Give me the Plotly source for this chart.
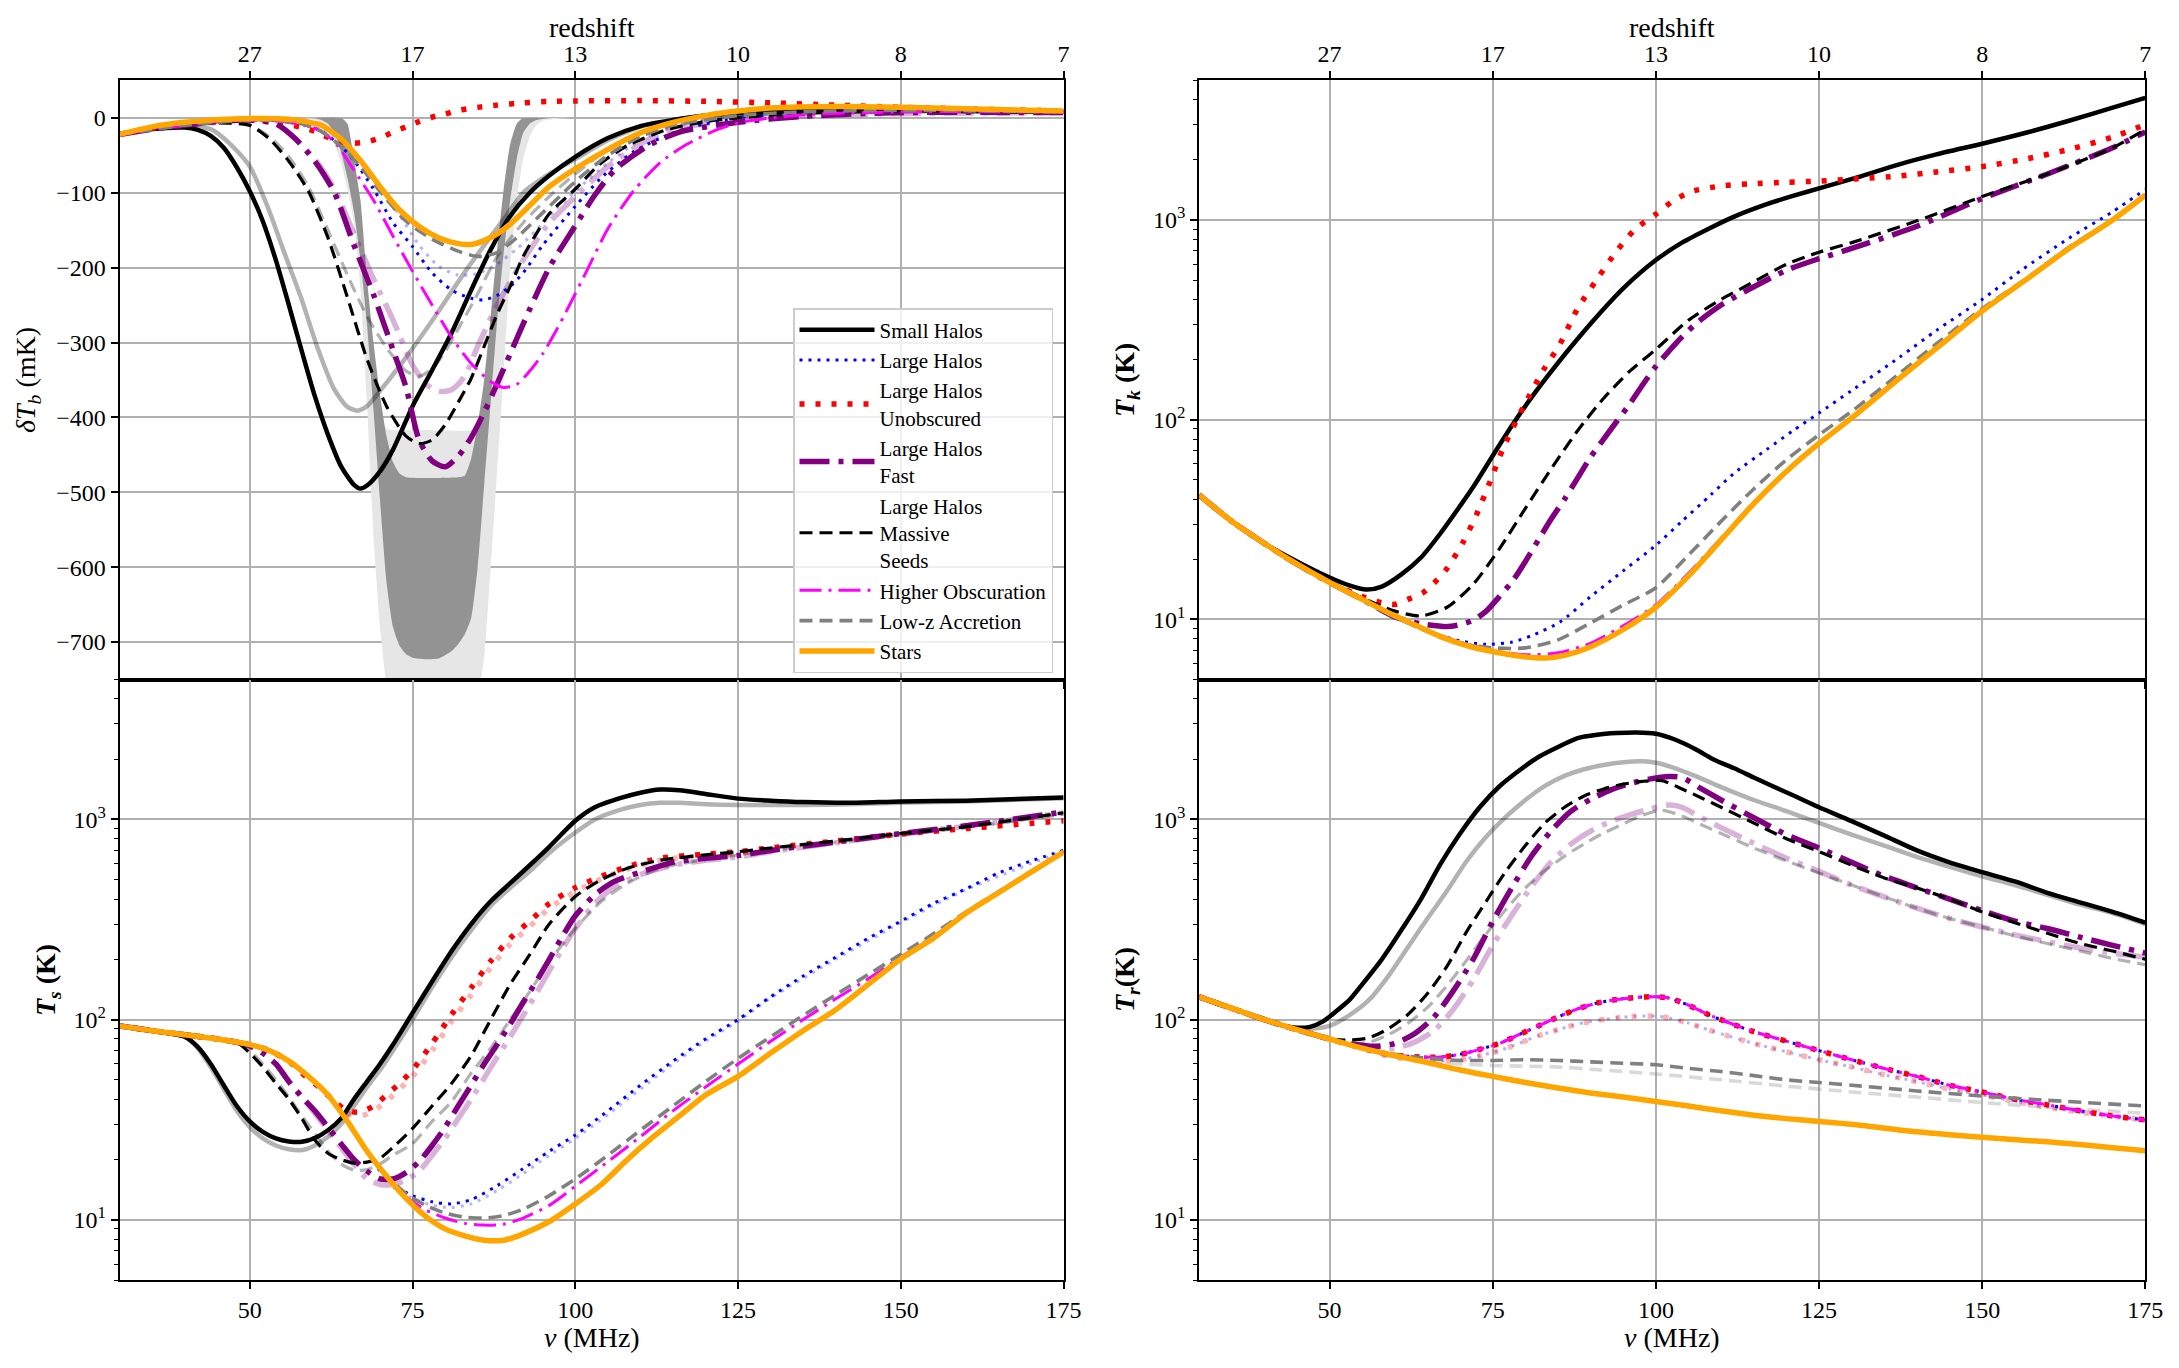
import plotly.graph_objects as go

# ---------------- DATA ----------------
MHZ_TICKS = [50, 75, 100, 125, 150, 175]
MHZ_LABELS = ["50", "75", "100", "125", "150", "175"]
Z_LABELS = ["27", "17", "13", "10", "8", "7"]
TB_TICKS = [-700, -600, -500, -400, -300, -200, -100, 0]
TB_LABELS = ["\u2212700", "\u2212600", "\u2212500", "\u2212400", "\u2212300", "\u2212200", "\u2212100", "0"]
LOG_TICKS = [10, 100, 1000]
LOG_LABELS = ["10<sup>1</sup>", "10<sup>2</sup>", "10<sup>3</sup>"]
LOG_MINOR = [5, 6, 7, 8, 9, 20, 30, 40, 50, 60, 70, 80, 90, 200, 300, 400, 500, 600, 700, 800, 900,
             2000, 3000, 4000, 5000]

# EDGES-like shaded band (dT_b, mK)
band_light_upper_nu = [58, 62, 64, 65, 66, 67, 68, 69, 70, 71, 72, 78, 84, 85, 86, 87, 88, 89, 90, 91, 92, 94, 99]
band_light_upper = [0, 0, 0, -15, -75, -150, -250, -340, -400, -415, -417, -417, -417, -405, -360, -290, -200,
                    -120, -50, -12, 0, 0, 0]
band_light_lower_nu = [58, 60, 61, 62, 63, 64, 65, 66, 67, 68, 69, 70, 71, 72, 78, 84, 85, 86, 87, 88, 89, 90,
                       91, 92, 93, 94, 95, 97, 99]
band_light_lower = [0, -3, -8, -18, -35, -60, -95, -140, -230, -380, -560, -680, -760, -820, -850, -820, -780,
                    -720, -600, -470, -340, -200, -110, -55, -25, -10, -4, -1.5, 0]
band_dark_upper_nu = [60, 64, 65, 66, 67, 68, 69, 70, 71, 72, 73, 74, 78, 82, 83, 84, 85, 86, 87, 88, 89, 90, 91,
                      92, 95]
band_dark_upper = [0, 0, -8, -55, -110, -215, -300, -370, -425, -460, -475, -480, -481, -480, -478, -455, -410,
                   -350, -265, -175, -95, -35, -8, 0, 0]
band_dark_lower_nu = [58, 60, 61, 62, 63, 64, 65, 66, 67, 68, 69, 70, 71, 72, 73, 74, 75, 77, 79, 81, 82, 83, 84,
                      85, 86, 87, 88, 89, 90, 91, 92, 93, 94, 96, 98]
band_dark_lower = [0, -1, -3, -8, -20, -45, -80, -125, -190, -275, -390, -510, -620, -680, -705, -716, -721, -723,
                   -722, -712, -703, -690, -668, -600, -490, -380, -270, -180, -110, -55, -20, -8, -3, -0.5, 0]

# ---- dT_b (mK) ----
tb_small_nu = [30, 35, 40, 42, 44, 46, 48, 50, 52, 54, 56, 58, 60, 62, 64, 66, 67, 68, 70, 72, 75, 78, 81, 84, 87,
               90, 93, 96, 100, 105, 110, 115, 120, 125, 135, 150, 175]
tb_small = [-22, -15, -13, -16, -24, -40, -66, -98, -138, -190, -250, -312, -372, -423, -465, -490, -495, -491,
            -472, -443, -385, -337, -287, -230, -176, -131, -100, -77, -52, -27, -11, -3, 3, 6, 9, 10, 8]
tb_small_f_nu = [30, 35, 40, 44, 47, 50, 52.7, 55.3, 57.9, 60.4, 63, 65, 66.5, 68, 69.7, 73.3, 78.4, 83.5, 88.7,
                 92, 96, 100, 105, 110, 115, 120, 130, 150, 175]
tb_small_f = [-22, -15, -12, -15, -35, -65, -118, -180, -241, -307, -363, -386, -391, -385, -368, -328, -266, -200,
              -139, -100, -75, -55, -30, -12, -3, 2, 7, 9, 8]
tb_large_nu = [30, 35, 40, 45, 50, 55, 58, 61, 64, 66, 69, 72, 75, 78, 81, 84, 86, 88, 90, 92, 95, 100, 104, 109,
               115, 120, 125, 135, 150, 175]
tb_large = [-22, -15, -10, -5, -3, -4, -8, -18, -38, -57, -95, -140, -172, -207, -230, -241, -243, -237, -225, -207,
            -170, -118, -80, -45, -20, -8, 0, 7, 10, 8]
tb_large_f_nu = [30, 40, 50, 55, 58, 61, 64, 67, 70, 73, 76, 79, 82, 85, 88, 91, 94, 97, 100, 105, 110, 115, 125,
                 150, 175]
tb_large_f = [-22, -10, -3, -4, -8, -15, -30, -55, -92, -130, -170, -198, -210, -208, -195, -175, -150, -122, -98,
              -60, -30, -12, 2, 9, 8]
tb_unobs_nu = [30, 35, 40, 45, 50, 55, 58, 60, 62, 64, 66, 68, 70, 72, 74, 76, 78, 80, 82, 85, 88, 92, 96, 100,
               110, 120, 130, 140, 150, 160, 175]
tb_unobs = [-22, -14, -8, -4, -2, -7, -13, -18, -26, -32, -34, -32, -27, -19, -12, -5, 1, 5, 10, 14, 17, 20, 22,
            22.5, 23, 22, 20, 17, 14, 12, 9]
tb_fast_nu = [30, 35, 40, 45, 50, 54, 57, 60, 63, 66, 69, 72, 74, 76, 78, 80, 82, 84, 86, 88, 90, 92, 96, 100, 103,
              106, 111, 116, 125, 135, 150, 175]
tb_fast = [-22, -15, -10, -5, -3, -8, -28, -58, -100, -170, -236, -310, -360, -430, -458, -466, -452, -427, -393,
           -355, -315, -275, -200, -144, -103, -70, -38, -19, -6, 2, 7, 7]
tb_fast_f_nu = [30, 40, 50, 54, 57, 60, 63, 66, 69, 72, 75, 77, 79, 81, 83, 85, 88, 92, 96, 100, 105, 110, 115, 125,
                140, 175]
tb_fast_f = [-22, -10, -3, -8, -28, -55, -95, -155, -215, -270, -330, -355, -365, -363, -345, -305, -250, -190,
             -140, -105, -65, -35, -15, -3, 4, 7]
tb_seeds_nu = [30, 35, 40, 44, 47, 50, 53, 56, 59, 62, 65, 68, 71, 74, 76, 78, 80, 82, 84, 86, 88, 90, 92, 94, 96,
               100, 104, 108, 114, 120, 125, 135, 150, 175]
tb_seeds = [-22, -15, -10, -7, -7, -10, -28, -58, -98, -160, -240, -322, -385, -425, -435, -430, -410, -380, -348,
            -305, -262, -225, -185, -155, -128, -95, -60, -37, -16, -5, 0, 6, 9, 8]
tb_seeds_f_nu = [30, 40, 47, 50, 53, 56, 59, 62, 65, 68, 71, 74, 76, 78, 80, 82, 85, 88, 92, 96, 100, 105, 110, 115,
                 125, 150, 175]
tb_seeds_f = [-22, -10, -7, -10, -25, -52, -92, -150, -210, -265, -307, -338, -345, -335, -312, -282, -235, -185,
              -140, -105, -75, -42, -20, -8, 2, 8, 8]
tb_highobs_nu = [30, 35, 40, 45, 50, 55, 60, 63, 66, 69, 72, 75, 78, 81, 84, 87, 89, 91, 93, 95, 97, 99, 102, 105,
                 109, 113, 117, 122, 126, 135, 150, 175]
tb_highobs = [-22, -15, -10, -5, -3, -5, -14, -32, -70, -110, -158, -205, -250, -293, -328, -352, -360, -356, -338,
              -315, -285, -252, -200, -148, -97, -60, -36, -15, -5, 4, 8, 8]
tb_lowz_nu = [30, 40, 50, 55, 58, 61, 64, 67, 70, 74, 78, 82, 85, 88, 91, 94, 97, 100, 105, 110, 115, 125, 135, 150,
              175]
tb_lowz = [-22, -10, -3, -4, -8, -18, -38, -65, -98, -138, -162, -178, -185, -180, -160, -135, -110, -85, -50, -25,
           -10, 3, 8, 10, 8]
tb_stars_nu = [30, 35, 40, 45, 50, 55, 58, 61, 64, 67, 70, 73, 76, 79, 82, 84, 86, 88, 90, 93, 96, 100, 105, 110,
               115, 120, 125, 130, 140, 150, 160, 175]
tb_stars = [-22, -12, -6, -2.5, -1, -1.5, -4, -10, -28, -57, -92, -123, -145, -160, -168, -169, -164, -155, -142,
            -117, -92, -68, -42, -20, -6, 3, 9, 13, 15, 14, 12, 9]

# ---- T_k (K) ----
tk_small_nu = [30, 35, 40, 45, 50, 53, 55.6, 58, 61, 64, 67, 70, 72, 75, 78, 81, 84, 87, 91, 95, 100, 104, 108.4,
               112, 117, 121, 125, 131, 137.3, 143, 150, 157, 163.3, 170, 175]
tk_small = [42, 31, 24, 19.5, 16.2, 14.8, 14.1, 14.6, 16.8, 20.4, 27, 37, 46, 66, 94, 130, 175, 232, 330, 455, 630,
            770, 915, 1040, 1200, 1320, 1440, 1640, 1900, 2130, 2410, 2750, 3140, 3650, 4085]
tk_large_nu = [30, 35, 40, 44, 50, 60, 65, 70, 74, 78, 81, 85.3, 90, 95, 100, 104, 108.4, 112, 117, 121, 125, 130,
               137.3, 143, 150, 156, 163.3, 170, 175]
tk_large = [42, 31, 24, 19.8, 15.3, 10.3, 8.7, 7.8, 7.5, 7.7, 8.3, 9.7, 13, 17.5, 23.5, 31, 42, 54, 71, 88, 108, 140,
            205, 280, 400, 560, 810, 1100, 1422]
tk_unobs_nu = [30, 35, 40, 44, 50, 55, 58, 60, 62, 64.3, 66, 68, 70.5, 72.5, 74.6, 76.6, 79.7, 82.8, 85.3, 88, 91,
               94, 96.8, 100, 102.7, 105.5, 110, 114.2, 120, 125, 131, 137.3, 143, 150, 157, 163.3, 170, 175]
tk_unobs = [42, 31, 24, 19.8, 15.3, 13, 12.1, 11.9, 12.6, 13.6, 15.2, 18, 24.5, 33.4, 49, 72, 116, 178, 239, 360,
            506, 700, 896, 1069, 1250, 1390, 1480, 1515, 1545, 1566, 1610, 1660, 1740, 1850, 2030, 2255, 2600, 3006]
tk_fast_nu = [30, 35, 40, 44, 50, 55, 60, 64, 68, 70, 72, 74, 76, 78, 80, 82, 84, 86, 88, 90, 92, 94, 96, 98, 100,
              103, 106, 110, 113, 120, 125, 130, 140, 150, 160, 170, 175]
tk_fast = [42, 31, 24, 19.8, 15.3, 12.6, 10.3, 9.5, 9.2, 9.4, 9.9, 11, 13, 15.5, 19.5, 25, 32, 40, 51, 65, 80, 98,
           120, 150, 185, 240, 300, 375, 427, 560, 640, 720, 930, 1280, 1700, 2300, 2760]
tk_seeds_nu = [30, 35, 40, 44, 50, 55, 60, 64, 68, 72, 76, 80, 84, 88, 92, 96, 100, 105, 110, 115, 120, 125, 130,
               140, 150, 160, 170, 175]
tk_seeds = [42, 31, 24, 19.8, 15.3, 12.8, 11, 10.4, 11.5, 15, 22.5, 36, 57, 88, 128, 175, 225, 315, 400, 490, 600,
            690, 770, 990, 1310, 1700, 2300, 2840]
tk_highobs_nu = [30, 35, 40, 44, 50, 60, 65, 70, 75, 80, 85, 90, 95, 100, 105, 110, 115, 120, 125, 130, 137.3, 143,
                 150, 157, 163.3, 170, 175]
tk_highobs = [42, 31, 24, 19.8, 15.3, 10.5, 8.8, 7.7, 7.0, 6.65, 6.8, 7.6, 9.3, 11.8, 17, 25.5, 38.5, 55.5, 76, 102,
              161, 228, 350, 510, 720, 1000, 1330]
tk_lowz_nu = [30, 35, 40, 44, 50, 60, 65, 70, 75, 80, 85, 90, 95, 100, 105, 110, 115, 120, 125, 130, 137.3, 143,
              150, 157, 163.3, 170, 175]
tk_lowz = [42, 31, 24, 19.8, 15.3, 10.3, 8.7, 7.6, 7.2, 7.2, 7.9, 9.6, 11.8, 14.4, 21, 31, 45, 63, 84, 110, 170, 240,
           360, 515, 730, 1010, 1340]
tk_stars_nu = [30, 35, 40, 44, 50, 55, 59, 63, 67, 71, 75, 79, 83, 86, 90, 95, 100, 105, 110, 115, 120, 125, 130,
               137.3, 143, 150, 157, 163.3, 170, 175]
tk_stars = [42, 31, 24, 19.8, 15.3, 12.6, 10.8, 9.4, 8.2, 7.4, 6.9, 6.55, 6.4, 6.6, 7.3, 8.9, 11.5, 16.5, 25, 38, 55,
            76, 102, 161, 228, 350, 510, 720, 1000, 1330]

# ---- T_s (K) ----
ts_small_nu = [30, 35, 38, 40, 42, 44, 46, 48, 50, 52, 54, 56, 58, 60, 62, 64, 66, 68, 70, 72, 75, 78, 81, 84, 87,
               90, 93, 96, 100, 103, 107, 110, 113, 116, 120, 125, 130, 135, 142, 150, 160, 175]
ts_small = [93, 88, 85, 82, 73, 60, 47, 37, 31, 27.5, 25.5, 24.6, 24.5, 25.6, 28, 32, 40, 49, 60, 75, 108, 155, 220,
            300, 390, 480, 590, 730, 985, 1150, 1280, 1360, 1410, 1400, 1340, 1270, 1240, 1220, 1210, 1230, 1240,
            1285]
ts_small_f_nu = [30, 40, 42, 44, 46, 48, 50, 52, 54, 56, 58, 60, 62, 64, 66, 68, 70, 72, 75, 78, 81, 84, 87, 90, 93,
                 96, 100, 103, 107, 110, 113, 116, 120, 125, 130, 135, 142, 150, 160, 175]
ts_small_f = [93, 82, 72, 58, 45, 35, 29, 25.5, 23.5, 22.5, 22.3, 23.5, 26, 30, 37, 46, 56, 70, 100, 145, 205, 280,
              370, 455, 550, 680, 860, 1000, 1120, 1180, 1210, 1210, 1190, 1180, 1180, 1180, 1190, 1210, 1230, 1275]
ts_large_nu = [30, 35, 40, 45, 50, 53, 56, 59, 62, 65, 68, 70, 72, 75, 78, 81, 84, 88, 92, 96, 100, 105, 110, 115,
               120, 125, 130, 135, 140, 145, 150, 155, 160, 165, 170, 175]
ts_large = [93, 88, 84, 80, 75, 70, 62, 52, 42, 31, 22, 17.5, 15, 13.2, 12.3, 12, 12.6, 14.8, 18, 22, 26.5, 35, 47,
            62, 80, 100, 130, 165, 205, 255, 310, 380, 450, 540, 620, 700]
ts_large_f_nu = [72, 75, 78, 81, 84, 88, 92, 96, 100, 105, 110, 115, 120, 125, 130, 140, 150, 160, 175]
ts_large_f = [14.5, 12.8, 11.8, 11.5, 12, 14, 17, 21, 25.5, 33.5, 45, 60, 78, 98, 128, 200, 305, 445, 695]
ts_unobs_nu = [30, 35, 40, 45, 50, 53, 56, 58, 61, 63, 65, 67, 69, 71, 73, 75, 78, 81, 84, 87, 90, 93, 96, 100, 104,
               108, 113, 120, 125, 130, 140, 150, 160, 175]
ts_unobs = [93, 88, 84, 80, 75, 70, 62, 54, 45, 39, 35, 34.5, 37, 42, 48, 56, 76, 106, 144, 196, 255, 310, 380, 456,
            520, 580, 640, 670, 690, 720, 780, 845, 900, 985]
ts_unobs_f_nu = [63, 65, 67, 69, 71, 73, 75, 78, 81, 84, 87, 90, 93, 96, 100, 104, 108, 113, 120]
ts_unobs_f = [38, 34, 33, 35, 39, 45, 52, 70, 98, 133, 182, 238, 292, 360, 435, 505, 565, 625, 660]
ts_fast_nu = [30, 35, 40, 45, 48, 50, 52, 54, 56, 58, 60, 62, 64, 66, 68, 70, 72, 74, 76, 78, 80, 82, 84, 86, 88, 90,
              92, 94, 96, 98, 100, 103, 106, 110, 115, 120, 125, 130, 140, 150, 160, 175]
ts_fast = [93, 88, 84, 80, 77, 74, 68, 60, 49, 41, 35, 29, 24, 20, 17.5, 16, 16, 17.2, 19.5, 23.5, 29, 37, 47, 60, 75,
           95, 122, 155, 200, 260, 330, 420, 490, 545, 610, 640, 660, 700, 770, 850, 930, 1090]
ts_fast_f_nu = [30, 35, 40, 45, 48, 50, 52, 54, 56, 58, 60, 62, 64, 66, 68, 70, 72, 74, 76, 78, 80, 82, 84, 86, 88,
                90, 92, 94, 96, 98, 100, 103, 106, 110, 115, 120, 125, 130, 140, 150, 160, 175]
ts_fast_f = [93, 88, 84, 80, 77, 74, 68, 60, 49, 41, 34, 28, 23, 19, 16, 15, 15, 15.8, 17.5, 21, 25.5, 32, 40, 51,
             65, 82, 105, 135, 175, 225, 285, 380, 460, 530, 590, 625, 650, 690, 765, 845, 925, 1080]
ts_seeds_nu = [30, 35, 40, 45, 48, 50, 52, 54, 56, 58, 60, 62, 64, 66, 68, 70, 72, 75, 78, 81, 84, 87, 90, 93, 96,
               100, 104, 108, 113, 120, 125, 130, 140, 150, 160, 175]
ts_seeds = [93, 88, 84, 80, 77, 68, 58, 48, 40, 32, 25, 21.5, 20, 19.2, 19.4, 20.3, 23, 28.6, 37, 48, 66, 100, 150,
            211, 300, 412, 500, 570, 625, 665, 690, 720, 780, 850, 920, 1080]
ts_seeds_f_nu = [30, 35, 40, 45, 48, 50, 52, 54, 56, 58, 60, 62, 64, 66, 68, 70, 72, 75, 78, 81, 84, 87, 90, 93, 96,
                 100, 104, 108, 113, 120, 125, 130, 140, 150, 160, 175]
ts_seeds_f = [93, 88, 84, 80, 77, 70, 60, 50, 41, 33, 27, 22, 19, 17.7, 17.8, 19, 21, 24, 31, 39, 54, 72, 100, 138,
              195, 285, 390, 480, 570, 630, 665, 700, 770, 840, 910, 1060]
ts_highobs_nu = [30, 35, 40, 45, 50, 53, 56, 59, 62, 65, 68, 71, 74, 77, 80, 83, 86, 89, 92, 96, 100, 105, 110, 115,
                 120, 125, 130, 135, 140, 145, 150, 155, 160, 165, 170, 175]
ts_highobs = [93, 88, 84, 80, 75, 70, 62, 52, 42, 31, 22, 16.5, 13, 11.2, 10.2, 9.6, 9.4, 9.5, 10.2, 11.8, 14.7,
              19.5, 26, 35, 46, 60, 78, 100, 127, 160, 205, 260, 340, 430, 545, 690]
ts_lowz_nu = [30, 35, 40, 45, 50, 53, 56, 59, 62, 65, 68, 71, 74, 77, 80, 83, 86, 89, 92, 96, 100, 105, 110, 115, 120,
              125, 130, 135, 140, 145, 150, 155, 160, 165, 170, 175]
ts_lowz = [93, 88, 84, 80, 75, 70, 62, 52, 42, 31, 22, 16.7, 13.5, 11.8, 10.8, 10.3, 10.2, 10.5, 11.3, 13.2, 16, 21,
           28, 37, 49, 64, 82, 105, 133, 168, 212, 268, 345, 435, 550, 695]
ts_stars_nu = [30, 35, 40, 45, 50, 53, 56, 59, 62, 65, 68, 71, 74, 77, 80, 83, 86, 89, 92, 96, 100, 104, 108, 112,
               116, 120, 125, 130, 135, 140, 145, 150, 155, 160, 165, 170, 175]
ts_stars = [93, 88, 84, 80, 75, 70, 62, 52, 42, 31, 22, 16.5, 12.8, 10.4, 9, 8.3, 7.9, 7.9, 8.5, 9.8, 12, 15, 20, 26,
            33, 42, 52, 68, 88, 112, 150, 201, 255, 340, 430, 545, 687]

# ---- T_r (K) ----
tr_small_nu = [30, 35, 40, 43, 45, 47, 49, 51, 53, 55, 58, 61, 64, 67, 70, 73, 76, 79, 82, 85, 88, 91, 94, 97, 100,
               103, 106, 109, 112, 115, 118, 121, 125, 130, 135, 140, 145, 150, 155, 160, 165, 170, 175]
tr_small = [130, 114, 100, 93, 91, 92, 98, 110, 125, 150, 200, 280, 400, 600, 850, 1150, 1460, 1750, 2050, 2300,
            2550, 2650, 2700, 2720, 2680, 2500, 2250, 1980, 1800, 1620, 1460, 1320, 1150, 980, 830, 700, 610, 545,
            490, 430, 385, 345, 305]
tr_small_f_nu = [30, 40, 44, 47, 50, 53, 56, 59, 62, 65, 68, 71, 74, 77, 80, 83, 86, 89, 92, 95, 98, 100, 103, 106,
                 110, 115, 120, 125, 130, 135, 140, 145, 150, 155, 160, 165, 170, 175]
tr_small_f = [130, 100, 91, 90, 93, 105, 125, 165, 230, 320, 440, 620, 820, 1030, 1250, 1470, 1650, 1780, 1870, 1930,
              1950, 1920, 1800, 1650, 1450, 1250, 1100, 960, 840, 740, 650, 580, 520, 470, 420, 375, 340, 300]
tr_large_nu = [30, 40, 45, 50, 55, 58, 61, 64, 67, 70, 73, 76, 79, 82, 85, 88, 91, 94, 97, 100, 102, 105, 108, 111,
               115, 120, 125, 130, 135, 140, 145, 150, 155, 160, 165, 170, 175]
tr_large = [130, 100, 89, 80, 72, 68, 66, 65, 65, 67, 71, 76, 84, 93, 103, 113, 121, 126, 129, 130, 128, 118, 106,
            97, 87, 78, 70, 63, 57, 52, 47, 43.5, 40, 37.5, 35, 33, 31.5]
tr_large_f_nu = [30, 40, 45, 50, 55, 58, 61, 64, 67, 70, 73, 76, 79, 82, 85, 88, 91, 94, 97, 100, 102, 105, 108, 111,
                 115, 120, 125, 130, 135, 140, 145, 150, 155, 160, 165, 170, 175]
tr_large_f = [130, 100, 89, 80, 72, 67, 64, 62.5, 62, 63, 66, 70, 76, 83, 89, 95, 99, 102, 104, 104, 102, 96, 89, 83,
              76, 69, 63, 58, 53, 49, 45, 42, 39, 36.5, 34.5, 33, 31.5]
tr_unobs_nu = [30, 40, 45, 50, 55, 58, 61, 64, 67, 70, 73, 76, 79, 82, 85, 88, 91, 94, 97, 100, 102, 105, 108, 111,
               115, 120, 125, 130, 135, 140, 145, 150, 155, 160, 165, 170, 175]
tr_unobs = [130, 100, 89, 80, 72, 68, 66, 65, 65, 67, 71, 76, 84, 93, 103, 113, 121, 126, 129, 130, 128, 118, 106,
            97, 87, 78, 70, 63, 57, 52, 47, 43.5, 40, 37.5, 35, 33, 31.5]
tr_unobs_f_nu = [30, 40, 45, 50, 55, 58, 61, 64, 67, 70, 73, 76, 79, 82, 85, 88, 91, 94, 97, 100, 102, 105, 108, 111,
                 115, 120, 125, 130, 135, 140, 145, 150, 155, 160, 165, 170, 175]
tr_unobs_f = [130, 100, 89, 80, 72, 67, 64, 62.5, 62, 63, 66, 70, 76, 83, 89, 95, 99, 102, 104, 104, 102, 96, 89, 83,
              76, 69, 63, 58, 53, 49, 45, 42, 39, 36.5, 34.5, 33, 31.5]
tr_fast_nu = [30, 40, 45, 50, 54, 57, 60, 63, 66, 69, 72, 75, 78, 81, 84, 87, 90, 93, 96, 99, 102, 104, 107, 110, 115,
              120, 125, 130, 135, 140, 145, 150, 155, 160, 165, 170, 175]
tr_fast = [130, 100, 89, 80, 75, 73.5, 76, 85, 103, 140, 200, 310, 460, 660, 880, 1100, 1260, 1400, 1510, 1590, 1640,
           1620, 1420, 1250, 1020, 840, 720, 610, 520, 455, 400, 350, 310, 285, 258, 235, 215]
tr_fast_f_nu = [30, 40, 45, 50, 54, 57, 60, 63, 66, 69, 72, 75, 78, 81, 84, 87, 90, 93, 96, 99, 102, 104, 107, 110,
                115, 120, 125, 130, 135, 140, 145, 150, 155, 160, 165, 170, 175]
tr_fast_f = [130, 100, 89, 80, 74, 71, 72, 77, 88, 113, 158, 235, 335, 465, 615, 755, 875, 975, 1055, 1125, 1180,
             1150, 1020, 910, 760, 640, 550, 470, 410, 360, 320, 290, 265, 245, 228, 215, 205]
tr_seeds_nu = [30, 40, 45, 50, 53, 56, 59, 62, 65, 68, 71, 74, 77, 80, 83, 86, 89, 92, 95, 98, 101, 104, 107, 110, 115,
               120, 125, 130, 135, 140, 145, 150, 155, 160, 165, 170, 175]
tr_seeds = [130, 100, 89, 80, 79, 81, 90, 106, 135, 185, 275, 390, 550, 740, 960, 1150, 1310, 1420, 1500, 1550, 1560,
            1420, 1280, 1150, 960, 800, 690, 590, 510, 455, 400, 345, 305, 270, 240, 220, 200]
tr_seeds_f_nu = [30, 40, 45, 50, 53, 56, 59, 62, 65, 68, 71, 74, 77, 80, 83, 86, 89, 92, 95, 98, 101, 104, 107, 110,
                 115, 120, 125, 130, 135, 140, 145, 150, 155, 160, 165, 170, 175]
tr_seeds_f = [130, 100, 89, 80, 76, 77, 84, 96, 115, 148, 198, 268, 355, 455, 555, 655, 755, 855, 950, 1050, 1110,
              1040, 940, 850, 720, 620, 540, 470, 410, 360, 320, 290, 262, 240, 220, 202, 188]
tr_highobs_nu = [30, 40, 45, 50, 55, 58, 61, 64, 67, 70, 73, 76, 79, 82, 85, 88, 91, 94, 97, 100, 102, 105, 108, 111,
                 115, 120, 125, 130, 135, 140, 145, 150, 155, 160, 165, 170, 175]
tr_highobs = [130, 100, 89, 80, 72, 68, 66, 65, 65, 67, 71, 76, 84, 93, 103, 113, 121, 126, 129, 130, 128, 118, 106,
              97, 87, 78, 70, 63, 57, 52, 47, 43.5, 40, 37.5, 35, 33, 31.5]
tr_lowz_nu = [30, 40, 45, 50, 55, 60, 65, 70, 75, 80, 85, 90, 95, 100, 105, 110, 115, 120, 125, 130, 140, 150, 160,
              175]
tr_lowz = [130, 100, 89, 80, 72, 67, 64, 62.5, 62.5, 63, 62.5, 61.5, 60.5, 59.5, 57, 55, 52.5, 50, 48.5, 47, 44,
           41.5, 39.5, 37]
tr_lowz_f_nu = [30, 40, 45, 50, 55, 60, 65, 70, 75, 80, 85, 90, 95, 100, 110, 120, 130, 140, 150, 160, 175]
tr_lowz_f = [130, 100, 89, 80, 71.5, 65.5, 61.5, 60, 59, 58.5, 58, 56.5, 55, 53.5, 50, 46.5, 43.5, 41, 38.5, 36.5,
             34]
tr_stars_nu = [30, 35, 40, 45, 50, 55, 60, 65, 70, 75, 80, 85, 90, 95, 100, 105, 110, 115, 120, 125, 130, 140, 150,
               160, 175]
tr_stars = [130, 114, 100, 89, 80, 72, 66, 61, 56, 52, 48.5, 45.5, 43, 41, 39, 37, 35, 33.3, 32, 31, 30, 27.5, 25.8,
            24.5, 22.1]

# ---------------- STYLE ----------------
FONT = "Liberation Serif"
W, H = 2179, 1368
S = {
    "small": dict(color="#000000", width=4.5, dash="solid"),
    "large": dict(color="#0000ff", width=3, dash="3px,6px"),
    "unobs": dict(color="#ff0000", width=5.5, dash="5px,11px"),
    "fast": dict(color="#800080", width=5.5, dash="30px,9px,5px,9px"),
    "seeds": dict(color="#000000", width=3.2, dash="13px,7px"),
    "highobs": dict(color="#ff00ff", width=3, dash="22px,7px,3px,7px"),
    "lowz": dict(color="#808080", width=3.6, dash="13px,7px"),
    "stars": dict(color="#ffa500", width=5.5, dash="solid"),
}
FADED = {
    "small": "rgba(0,0,0,0.3)", "large": "rgba(0,0,255,0.3)", "unobs": "rgba(255,0,0,0.3)",
    "fast": "rgba(128,0,128,0.3)", "seeds": "rgba(0,0,0,0.3)", "highobs": "rgba(255,0,255,0.3)",
    "lowz": "rgba(128,128,128,0.3)",
}
NAMES = {
    "small": "Small Halos", "large": "Large Halos", "unobs": "Large Halos<br>Unobscured",
    "fast": "Large Halos<br>Fast", "seeds": "Large Halos<br>Massive<br>Seeds", "highobs": "Higher Obscuration",
    "lowz": "Low-z Accretion", "stars": "Stars",
}
ORDER = ["small", "large", "unobs", "fast", "seeds", "highobs", "lowz", "stars"]

fig = go.Figure()


def add_line(nu, val, ax, key, faded=False, legend=False):
    st = dict(S[key])
    if faded:
        st["color"] = FADED[key]
    fig.add_trace(go.Scatter(
        x=nu, y=val, xaxis="x" + ax, yaxis="y" + ax, mode="lines",
        line=dict(color=st["color"], width=st["width"], dash=st["dash"], shape="spline", smoothing=0.7),
        name=NAMES[key], showlegend=legend, legendrank=ORDER.index(key) + 1, hoverinfo="skip"))


def add_band(nu_u, v_u, nu_l, v_l, color):
    fig.add_trace(go.Scatter(x=nu_u, y=v_u, xaxis="x", yaxis="y", mode="lines",
                             line=dict(width=0, color="rgba(0,0,0,0)", shape="spline", smoothing=0.5),
                             showlegend=False, hoverinfo="skip"))
    fig.add_trace(go.Scatter(x=nu_l, y=v_l, xaxis="x", yaxis="y", mode="lines", fill="tonexty",
                             fillcolor=color,
                             line=dict(width=0, color="rgba(0,0,0,0)", shape="spline", smoothing=0.5),
                             showlegend=False, hoverinfo="skip"))


# panel 1: dT_b
add_band(band_light_upper_nu, band_light_upper, band_light_lower_nu, band_light_lower, "#e6e6e6")
add_band(band_dark_upper_nu, band_dark_upper, band_dark_lower_nu, band_dark_lower, "#939393")
add_line(tb_small_f_nu, tb_small_f, "", "small", faded=True)
add_line(tb_large_f_nu, tb_large_f, "", "large", faded=True)
add_line(tb_fast_f_nu, tb_fast_f, "", "fast", faded=True)
add_line(tb_seeds_f_nu, tb_seeds_f, "", "seeds", faded=True)
add_line(tb_small_nu, tb_small, "", "small", legend=True)
add_line(tb_large_nu, tb_large, "", "large", legend=True)
add_line(tb_unobs_nu, tb_unobs, "", "unobs", legend=True)
add_line(tb_fast_nu, tb_fast, "", "fast", legend=True)
add_line(tb_seeds_nu, tb_seeds, "", "seeds", legend=True)
add_line(tb_highobs_nu, tb_highobs, "", "highobs", legend=True)
add_line(tb_lowz_nu, tb_lowz, "", "lowz", legend=True)
add_line(tb_stars_nu, tb_stars, "", "stars", legend=True)

# panel 2: T_k
add_line(tk_small_nu, tk_small, "2", "small")
add_line(tk_large_nu, tk_large, "2", "large")
add_line(tk_unobs_nu, tk_unobs, "2", "unobs")
add_line(tk_fast_nu, tk_fast, "2", "fast")
add_line(tk_seeds_nu, tk_seeds, "2", "seeds")
add_line(tk_highobs_nu, tk_highobs, "2", "highobs")
add_line(tk_lowz_nu, tk_lowz, "2", "lowz")
add_line(tk_stars_nu, tk_stars, "2", "stars")

# panel 3: T_s
add_line(ts_small_f_nu, ts_small_f, "3", "small", faded=True)
add_line(ts_large_f_nu, ts_large_f, "3", "large", faded=True)
add_line(ts_unobs_f_nu, ts_unobs_f, "3", "unobs", faded=True)
add_line(ts_fast_f_nu, ts_fast_f, "3", "fast", faded=True)
add_line(ts_seeds_f_nu, ts_seeds_f, "3", "seeds", faded=True)
add_line(ts_small_nu, ts_small, "3", "small")
add_line(ts_large_nu, ts_large, "3", "large")
add_line(ts_unobs_nu, ts_unobs, "3", "unobs")
add_line(ts_fast_nu, ts_fast, "3", "fast")
add_line(ts_seeds_nu, ts_seeds, "3", "seeds")
add_line(ts_highobs_nu, ts_highobs, "3", "highobs")
add_line(ts_lowz_nu, ts_lowz, "3", "lowz")
add_line(ts_stars_nu, ts_stars, "3", "stars")

# panel 4: T_r
add_line(tr_small_f_nu, tr_small_f, "4", "small", faded=True)
add_line(tr_large_f_nu, tr_large_f, "4", "large", faded=True)
add_line(tr_unobs_f_nu, tr_unobs_f, "4", "unobs", faded=True)
add_line(tr_fast_f_nu, tr_fast_f, "4", "fast", faded=True)
add_line(tr_seeds_f_nu, tr_seeds_f, "4", "seeds", faded=True)
add_line(tr_lowz_f_nu, tr_lowz_f, "4", "lowz", faded=True)
add_line(tr_small_nu, tr_small, "4", "small")
add_line(tr_large_nu, tr_large, "4", "large")
add_line(tr_unobs_nu, tr_unobs, "4", "unobs")
add_line(tr_fast_nu, tr_fast, "4", "fast")
add_line(tr_seeds_nu, tr_seeds, "4", "seeds")
add_line(tr_highobs_nu, tr_highobs, "4", "highobs")
add_line(tr_lowz_nu, tr_lowz, "4", "lowz")
add_line(tr_stars_nu, tr_stars, "4", "stars")

# ---------------- LAYOUT ----------------
L_DOM = [119.6 / W, 1063.6 / W]
R_DOM = [1199.1 / W, 2145.3 / W]
T_DOM = [1 - 679.5 / H, 1 - 80.4 / H]
B_DOM = [1 - 1280 / H, 1 - 679.5 / H]

tickfont = dict(family=FONT, size=24, color="black")
common = dict(showgrid=True, gridcolor="#b0b0b0", gridwidth=1.5, showline=True, linecolor="black", linewidth=2,
              ticks="outside", ticklen=7, tickwidth=1.5, tickcolor="black", tickfont=tickfont, zeroline=False,
              automargin=False, fixedrange=True)


def xax(dom, anchor, top):
    d = dict(common, domain=dom, anchor=anchor, range=[30, 175], tickmode="array", tickvals=MHZ_TICKS,
             ticktext=Z_LABELS if top else MHZ_LABELS, side="top" if top else "bottom",
             mirror="ticks" if top else True)
    return d


def yax(dom, anchor, log):
    d = dict(common, domain=dom, anchor=anchor, mirror=True)
    if log:
        d.update(type="log", range=[0.69897, 3.69897], tickmode="array", tickvals=LOG_TICKS, ticktext=LOG_LABELS,
                 minor=dict(tickmode="array", tickvals=LOG_MINOR, ticks="outside", ticklen=4, tickwidth=1.2,
                            tickcolor="black", showgrid=False))
    else:
        d.update(range=[-750, 50], tickmode="array", tickvals=TB_TICKS, ticktext=TB_LABELS)
    return d


def ann(text, x, y, angle=0):
    return dict(text=text, x=x / W, y=1 - y / H, xref="paper", yref="paper", showarrow=False,
                xanchor="center", yanchor="middle", textangle=angle,
                font=dict(family=FONT, size=28, color="black"))


fig.update_layout(
    width=W, height=H, template="none",
    paper_bgcolor="white", plot_bgcolor="white",
    margin=dict(l=0, r=0, t=0, b=0, pad=0),
    font=dict(family=FONT, color="black"),
    xaxis=xax(L_DOM, "y", True), yaxis=yax(T_DOM, "x", False),
    xaxis2=xax(R_DOM, "y2", True), yaxis2=yax(T_DOM, "x2", True),
    xaxis3=xax(L_DOM, "y3", False), yaxis3=yax(B_DOM, "x3", True),
    xaxis4=xax(R_DOM, "y4", False), yaxis4=yax(B_DOM, "x4", True),
    legend=dict(x=1053 / W, y=1 - 308 / H, xanchor="right", yanchor="top", bgcolor="rgba(255,255,255,0.8)",
                bordercolor="#cccccc", borderwidth=1.5, font=dict(family=FONT, size=21, color="black"),
                itemwidth=75, tracegroupgap=0, traceorder="normal"),
    annotations=[
        ann("redshift", 591.6, 27), ann("redshift", 1672, 27),
        ann("<i>\u03bd</i> (MHz)", 591.6, 1337), ann("<i>\u03bd</i> (MHz)", 1672, 1337),
        ann("<i>\u03b4T<sub>b</sub></i> (mK)", 27, 380, -90),
        ann("<b><i>T<sub>k</sub></i> (K)</b>", 1126, 380, -90),
        ann("<b><i>T<sub>s</sub></i> (K)</b>", 47, 980, -90),
        ann("<b><i>T<sub>r</sub></i>(K)</b>", 1126, 980, -90),
    ],
)

fig.write_html("out.html")
